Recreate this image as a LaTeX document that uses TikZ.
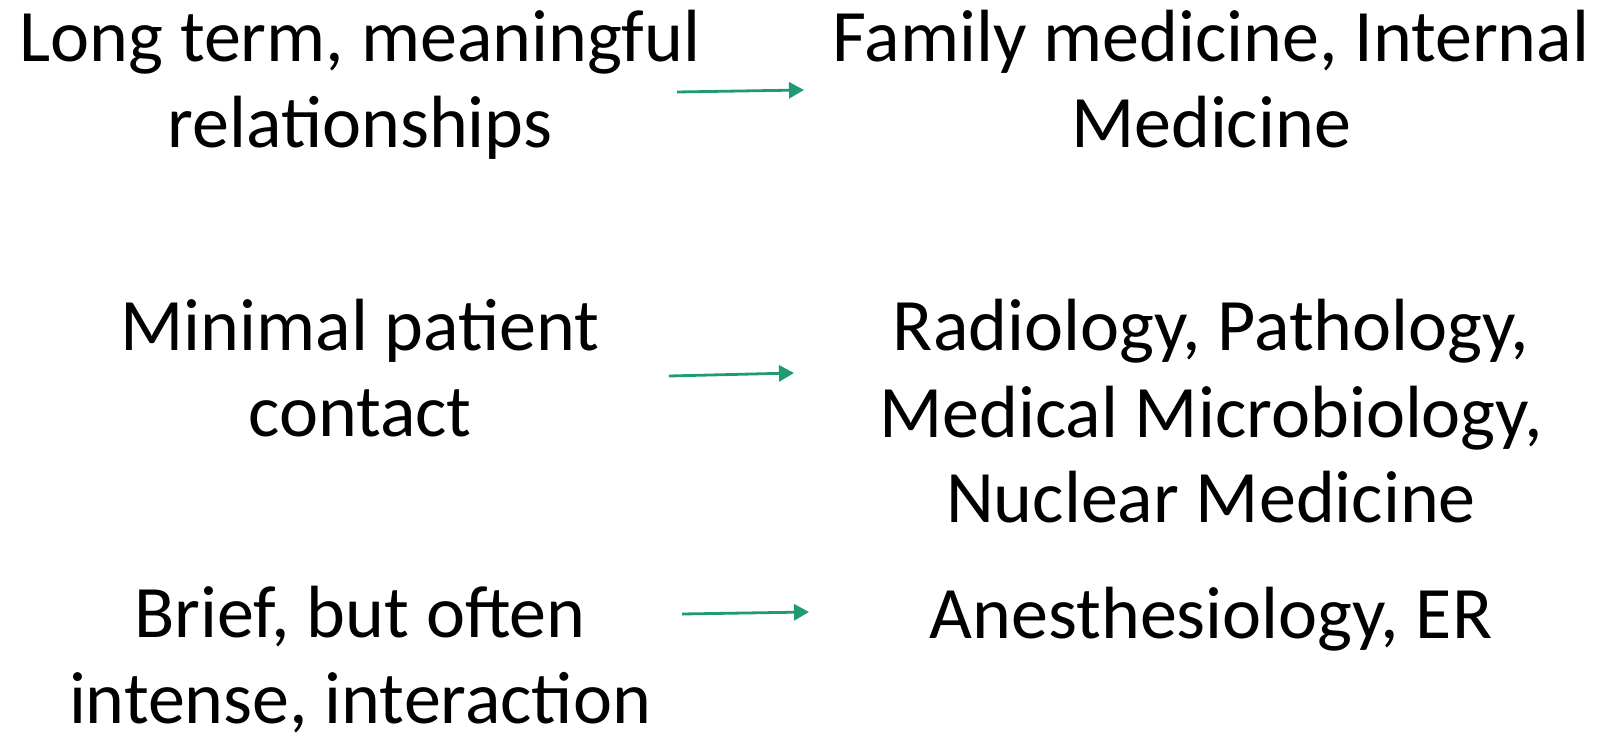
\documentclass[tikz,border=0pt]{standalone}
\usepackage{fontspec}
\setmainfont{Carlito}
\usetikzlibrary{arrows.meta, positioning}
\usepackage{xcolor}
\definecolor{linkgreen}{RGB}{31,154,116}
\tikzset{fieldtext/.style={align=center, inner sep=0pt, anchor=base, font=\fontsize{37pt}{43pt}\selectfont},
linkarrow/.style={-{Triangle[length=7.5pt, width=8pt]}, color=linkgreen, line width=1.4pt}}

\begin{document}
\begin{tikzpicture}
        \useasboundingbox (0pt, 0pt) rectangle (800.5pt, 367pt);
        % Contact kinds
        \node[fieldtext] (longterm) at (180pt, 293pt) {Long term, meaningful\\relationships};
        \node[fieldtext] (minimal) at (180pt, 148.5pt) {Minimal patient\\contact};
        \node[fieldtext] (brief) at (180pt, 5.5pt) {Brief, but often\\intense, interaction};
        % Specialties
        \node[fieldtext] (family) at (605.5pt, 293pt) {Family medicine, Internal\\Medicine};
        \node[fieldtext] (radiology) at (605.5pt, 105.5pt) {Radiology, Pathology,\\Medical Microbiology,\\Nuclear Medicine};
        \node[fieldtext] (anesthesia) at (605.5pt, 48pt) {Anesthesiology, ER};
        % Arrow ends
        \coordinate (longterm out) at (338.5pt, 321pt);
        \coordinate (family in) at (402pt, 322pt);
        \coordinate (minimal out) at (334.5pt, 179pt);
        \coordinate (radiology in) at (397pt, 180.5pt);
        \coordinate (brief out) at (341pt, 60pt);
        \coordinate (anesthesia in) at (404.5pt, 61pt);
        % Arrows
        \foreach \from/\to in {longterm out/family in, minimal out/radiology in, brief out/anesthesia in} {
            \draw[linkarrow] (\from) -- (\to);
        }
    \end{tikzpicture}
\end{document}
